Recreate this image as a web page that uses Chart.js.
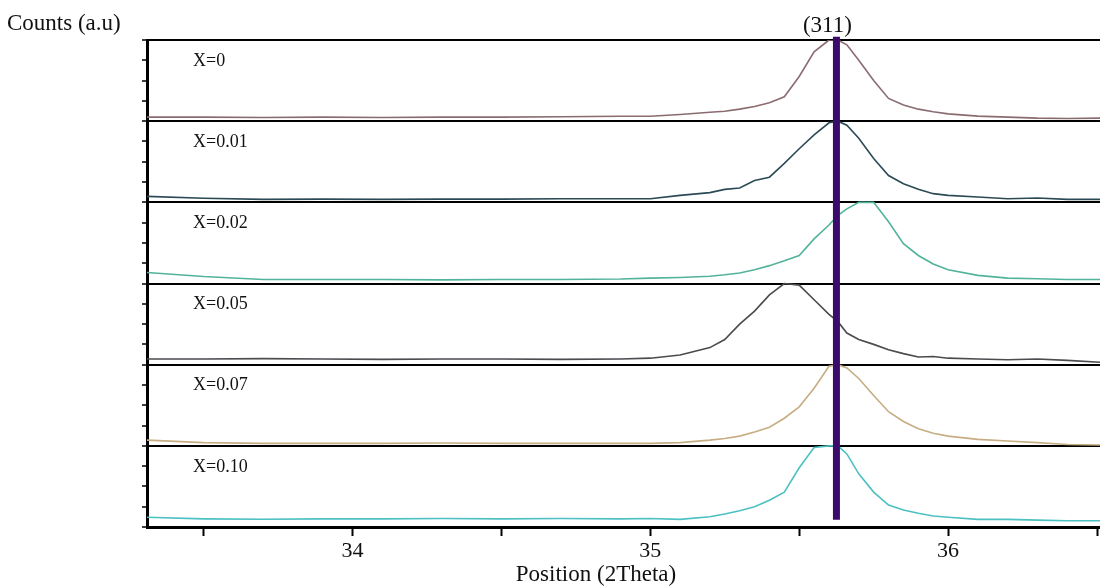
<!DOCTYPE html>
<html>
<head>
<meta charset="utf-8">
<title>XRD (311) peak shift</title>
<script src="https://cdn.jsdelivr.net/npm/chart.js@4.4.1/dist/chart.umd.min.js"></script>
<style>
  html, body { margin: 0; padding: 0; background: #fff; }
  #wrap { width: 1100px; height: 586px; position: relative; }
</style>
</head>
<body>
<div id="wrap"><canvas id="xrdChart"></canvas></div>
<script>
// 2theta positions (deg) shared by all patterns
const twoTheta = [33.31, 33.5, 33.7, 33.9, 34.1, 34.3, 34.5, 34.7, 34.9, 35.0, 35.1, 35.2, 35.25, 35.3, 35.35, 35.4, 35.45,
  35.5, 35.55, 35.6, 35.63, 35.66, 35.7, 35.75, 35.8, 35.85, 35.9, 35.95, 36.0, 36.1, 36.2, 36.3, 36.4, 36.51];

// normalised counts (0 = panel floor, 1 = panel top)
const countsX000 = [0.05, 0.05, 0.045, 0.05, 0.045, 0.05, 0.05, 0.055, 0.06, 0.06, 0.083, 0.11, 0.123, 0.148, 0.18, 0.226, 0.30,
  0.55, 0.855, 1.0, 1.0, 0.94, 0.75, 0.5, 0.28, 0.2, 0.148, 0.115, 0.09, 0.062, 0.05, 0.037, 0.033, 0.037];
const countsX001 = [0.074, 0.05, 0.037, 0.04, 0.037, 0.04, 0.04, 0.045, 0.045, 0.045, 0.086, 0.12, 0.16, 0.176, 0.27, 0.31, 0.48,
  0.66, 0.83, 0.98, 1.0, 0.95, 0.79, 0.54, 0.33, 0.23, 0.16, 0.107, 0.086, 0.066, 0.045, 0.053, 0.037, 0.037];
const countsX002 = [0.136, 0.086, 0.05, 0.05, 0.05, 0.045, 0.05, 0.05, 0.055, 0.066, 0.074, 0.09, 0.107, 0.13, 0.17, 0.22, 0.28,
  0.345, 0.55, 0.72, 0.84, 0.92, 1.0, 1.0, 0.76, 0.49, 0.345, 0.24, 0.17, 0.1, 0.066, 0.058, 0.05, 0.05];
const countsX005 = [0.07, 0.07, 0.075, 0.07, 0.065, 0.07, 0.07, 0.065, 0.07, 0.08, 0.12, 0.21, 0.31, 0.5, 0.66, 0.86, 1.0,
  0.98, 0.8, 0.62, 0.53, 0.39, 0.31, 0.25, 0.185, 0.136, 0.095, 0.10, 0.08, 0.07, 0.06, 0.07, 0.053, 0.03];
const countsX007 = [0.07, 0.04, 0.03, 0.03, 0.03, 0.035, 0.03, 0.03, 0.03, 0.03, 0.04, 0.07, 0.09, 0.12, 0.17, 0.23, 0.34,
  0.48, 0.71, 0.98, 1.0, 0.96, 0.83, 0.62, 0.42, 0.30, 0.21, 0.155, 0.12, 0.08, 0.06, 0.04, 0.016, 0.01];
const countsX010 = [0.12, 0.1, 0.095, 0.1, 0.1, 0.105, 0.1, 0.105, 0.1, 0.105, 0.094, 0.126, 0.16, 0.2, 0.25, 0.33, 0.43,
  0.73, 0.98, 1.0, 1.0, 0.9, 0.655, 0.43, 0.27, 0.21, 0.17, 0.135, 0.12, 0.094, 0.094, 0.085, 0.077, 0.077];

const sampleLabels = ["X=0", "X=0.01", "X=0.02", "X=0.05", "X=0.07", "X=0.10"];
const panelOffsets = [5, 4, 3, 2, 1, 0];
const xTickValues = [33.5, 34, 34.5, 35, 35.5, 36, 36.5];
const xTickLabels = ["", "34", "", "35", "", "36", ""];
const peak311 = 35.625;
const peakLineSpan = [0.09, 6.04];

const allCounts = [countsX000, countsX001, countsX002, countsX005, countsX007, countsX010];
const lineColors = ["#8a6c70", "#2c4a55", "#52b39b", "#4b4b50", "#c6ad83", "#4cc0c2"];
const SERIF = '"Liberation Serif", "Times New Roman", serif';

const datasets = allCounts.map((counts, i) => ({
  label: sampleLabels[i],
  data: twoTheta.map((t, k) => ({ x: t, y: panelOffsets[i] + counts[k] })),
  borderColor: lineColors[i],
  borderWidth: 1.6,
  pointRadius: 0,
  tension: 0,
  fill: false,
}));

datasets.push({
  label: "(311)",
  data: peakLineSpan.map((v) => ({ x: peak311, y: v })),
  borderColor: "#3a0b6b",
  borderWidth: 7,
  borderCapStyle: "butt",
  pointRadius: 0,
  clip: false,
  order: -1,
});

const panelText = {
  id: "panelText",
  afterDraw(chart) {
    const { ctx, chartArea, scales } = chart;
    ctx.save();
    ctx.fillStyle = "#111";
    ctx.textBaseline = "middle";
    ctx.font = "23px " + SERIF;
    ctx.textAlign = "left";
    ctx.fillText("Counts (a.u)", 7, 24);
    ctx.textAlign = "center";
    ctx.fillText("(311)", scales.x.getPixelForValue(peak311) - 9, 26);
    ctx.fillText("Position (2Theta)", chartArea.left + 449, 575);

    ctx.font = "18px " + SERIF;
    ctx.textAlign = "left";
    sampleLabels.forEach((lab, i) => {
      ctx.fillText(lab, chartArea.left + 46, scales.y.getPixelForValue(panelOffsets[i] + 1) + 21);
    });
    ctx.restore();
  },
};

new Chart(document.getElementById("xrdChart"), {
  type: "line",
  data: { datasets },
  options: {
    responsive: true,
    maintainAspectRatio: false,
    animation: false,
    layout: { padding: { top: 40, left: 0, right: 0, bottom: 0 } },
    plugins: {
      legend: { display: false },
      tooltip: { enabled: false },
    },
    scales: {
      x: {
        type: "linear",
        min: 33.31,
        max: 36.51,
        afterBuildTicks: (scale) => {
          scale.ticks = xTickValues.map((v) => ({ value: v }));
        },
        afterFit: (scale) => {
          scale.height = 59;
        },
        border: { color: "#000", width: 3 },
        grid: {
          drawOnChartArea: false,
          drawTicks: true,
          tickLength: 9,
          tickColor: "#000",
          tickWidth: 2,
        },
        ticks: {
          autoSkip: false,
          maxRotation: 0,
          padding: 2,
          color: "#111",
          font: { family: SERIF, size: 22 },
          callback: (value, index) => xTickLabels[index],
        },
      },
      y: {
        min: 0,
        max: 6,
        afterFit: (scale) => {
          scale.width = 147;
        },
        border: { color: "#000", width: 3 },
        grid: {
          color: (ctx) => (ctx.tick && Number.isInteger(ctx.tick.value) && ctx.tick.value > 0 ? "#000" : "rgba(0,0,0,0)"),
          lineWidth: 2,
          tickColor: "#000",
          tickWidth: 1.5,
          tickLength: 5,
        },
        ticks: { stepSize: 0.25, display: false },
      },
    },
  },
  plugins: [panelText],
});
</script>
</body>
</html>
